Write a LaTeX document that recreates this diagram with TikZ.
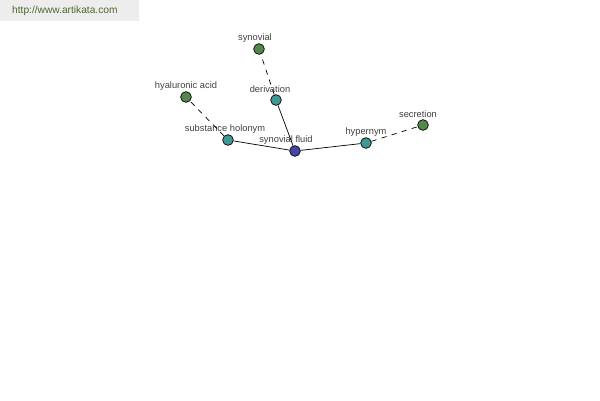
\documentclass[tikz,border=0pt]{standalone}
\usepackage{fontspec}
\setmainfont{Liberation Sans}
\usetikzlibrary{positioning}
\definecolor{hubblue}{HTML}{4646A0}
\definecolor{relteal}{HTML}{3F9894}
\definecolor{wordgreen}{HTML}{52894A}
\definecolor{urlgreen}{HTML}{4A6A2A}
\definecolor{bargray}{HTML}{EDEDED}
\tikzset{
    word/.style={
        circle, draw=black, line width=0.4pt,
        minimum size=6.1pt, inner sep=0pt
    },
    hub/.style={word, fill=hubblue},
    relation/.style={word, fill=relteal},
    target/.style={word, fill=wordgreen},
    lbl/.style={
        font=\fontsize{5.3}{6}\selectfont, text=black!75,
        inner sep=0.5pt
    },
    link/.style={draw=black, line width=0.4pt},
    weak link/.style={link, dashed, dash pattern=on 3pt off 3pt}
}

\begin{document}
\begin{tikzpicture}[x=0.02cm, y=-0.02cm]
    \useasboundingbox (0,0) rectangle (600,400);
    \fill[bargray] (0,0) rectangle (139,21);
    \node[font=\fontsize{5.8}{7}\selectfont, text=urlgreen, anchor=west] (url) at (6,11) {http://www.artikata.com};

    \node[hub, label={[lbl, xshift=-9*0.02cm]above:synovial fluid}] (fluid) at (295,151) {};
    \node[relation, label={[lbl, xshift=-3*0.02cm]above:substance holonym}] (holonym) at (228,140) {};
    \node[relation, label={[lbl, xshift=-6*0.02cm]above:derivation}] (derivation) at (276,100) {};
    \node[relation, label={[lbl]above:hypernym}] (hypernym) at (366,143) {};
    \node[target, label={[lbl]above:hyaluronic acid}] (hyaluronic) at (186,97) {};
    \node[target, label={[lbl, xshift=-4*0.02cm]above:synovial}] (synovial) at (259,49) {};
    \node[target, label={[lbl, xshift=-5*0.02cm]above:secretion}] (secretion) at (423,125) {};

    \draw[link] (fluid) -- (holonym);
    \draw[link] (fluid) -- (derivation);
    \draw[link] (fluid) -- (hypernym);
    \draw[weak link] (holonym) -- (hyaluronic);
    \draw[weak link] (derivation) -- (synovial);
    \draw[weak link] (hypernym) -- (secretion);
\end{tikzpicture}
\end{document}
